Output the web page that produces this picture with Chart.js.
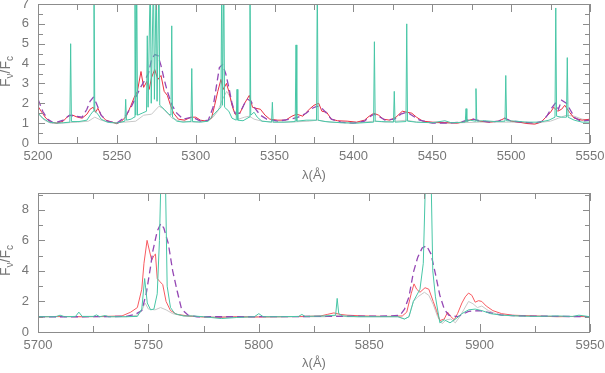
<!DOCTYPE html>
<html>
<head>
<meta charset="utf-8">
<script src="https://cdn.jsdelivr.net/npm/chart.js@4"></script>
<style>
body { margin: 0; background: #fff; }
canvas { position: absolute; left: 0; }
</style>
</head>
<body>
<canvas id="topChart" width="605" height="185" style="top:0px"></canvas>
<canvas id="bottomChart" width="605" height="188" style="top:185px"></canvas>
<script>
// ---- top panel: 5200-5550 A ----
const topXTicks = [5200, 5250, 5300, 5350, 5400, 5450, 5500, 5550];
const topYTicks = [0, 1, 2, 3, 4, 5, 6, 7];

const topTealWl = [5200,5203,5207,5212,5216,5220.2,5220.7,5221.2,5226,5231,5233.5,5235,5235.5,5236,5238,5240,5244,5250,
  5255.1,5255.6,5256.1,5259,5261,5261.5,5262,5262.6,5263.1,5266,5268.8,5269.3,5269.8,5271.2,5271.8,5273.2,5273.8,5275,5275.5,
  5276.7,5277.2,5280,5283,5284.3,5284.8,5285.3,5288,5292,5297,5297.5,5298,5303,5308,5311,5314,5316,5316.5,5317,5317.8,
  5318.3,5321,5323,5325.7,5326.2,5326.7,5330,5333.9,5334.4,5334.9,5337,5339,5342,5348.1,5348.6,5349.1,5356,5363.1,5363.6,5364.1,
  5370,5376.6,5377.1,5377.6,5382,5392,5402,5412.8,5413.3,5413.8,5418,5425.4,5425.9,5426.4,5433.3,5433.8,5434.3,5440,5450,5458,
  5462,5470.9,5471.4,5471.9,5474,5477.2,5477.7,5478.2,5483,5490,5496.1,5496.6,5497.1,5503,5510,5518,5524,5527.8,5528.3,5528.8,
  5532,5535.1,5535.6,5536.1,5540,5545,5550];
const topTealF = [1.5,1.25,1.05,1.0,1.02,1.05,5.0,1.08,1.08,1.15,1.45,1.6,8.5,1.6,1.45,1.2,1.05,1.0,
  1.1,2.2,1.15,1.2,1.3,8.5,1.4,8.5,1.4,1.5,1.6,5.4,1.8,8.5,2.0,8.5,2.2,8.5,2.1,
  8.5,1.9,1.7,1.45,1.4,5.9,1.3,1.1,1.05,1.08,3.75,1.08,1.05,1.1,1.4,1.65,1.8,8.5,1.9,8.5,
  1.8,1.6,1.25,1.15,2.7,1.15,1.12,1.3,8.5,1.4,1.55,1.3,1.1,1.05,2.05,1.05,1.05,1.08,4.94,1.1,
  1.15,1.15,8.5,1.15,1.08,1.02,1.0,1.05,5.1,1.1,1.08,1.05,2.6,1.05,1.08,6.0,1.1,1.05,1.02,1.12,
  1.02,1.05,1.73,1.08,1.15,1.1,2.74,1.1,1.12,1.08,1.1,3.4,1.12,1.1,1.05,1.05,1.15,1.3,6.8,1.35,
  1.3,1.3,4.3,1.3,1.15,1.05,1.05];

const topRedWl = [5200,5202,5205,5208,5212,5216,5219,5222,5225,5228,5231,5233,5235,5236.5,5238,5240,5243,5247,5250,5253,5256,
  5259,5261,5263,5265.3,5267,5269,5270.5,5272,5274,5276,5278,5280,5282,5284,5286,5289,5293,5297,5300,5303,5307,5310,5312,
  5314,5316,5317.5,5319.5,5321,5323,5325,5328,5331,5334,5336,5338,5341,5344,5347,5352,5357,5361,5364,5368,5372,5375,5378,
  5380,5383,5386,5390,5396,5402,5407,5410,5413,5416,5419,5423,5427,5431,5434,5437,5440,5444,5450,5460,5466,5471,5476,5480,
  5486,5492,5496,5500,5505,5510,5515,5519,5522,5525,5527,5529.5,5532,5534,5537,5540,5545,5550];
const topRedF = [1.85,1.6,1.25,1.05,1.0,1.1,1.35,1.4,1.3,1.25,1.45,1.7,1.8,1.55,1.75,1.4,1.15,1.05,0.97,1.1,1.35,
  1.9,2.3,2.6,3.6,2.8,3.1,2.7,3.3,3.7,3.2,3.4,2.6,2.4,1.9,1.5,1.2,1.15,1.3,1.3,1.15,1.1,1.25,1.9,
  2.6,3.2,2.7,3.0,2.6,1.9,1.45,1.5,2.0,2.4,1.8,1.75,1.7,1.4,1.2,1.15,1.15,1.35,1.45,1.35,1.7,1.9,2.0,
  1.6,1.55,1.2,1.12,1.1,1.05,1.15,1.35,1.5,1.4,1.2,1.15,1.3,1.6,1.55,1.5,1.3,1.1,1.05,1.02,1.0,1.1,1.2,1.1,
  1.05,1.1,1.25,1.1,1.05,0.98,0.95,1.05,1.3,1.55,1.8,1.6,1.7,1.9,1.55,1.25,1.15,1.2];

const topPurpleWl = [5200,5203,5206,5210,5216,5220,5224,5228,5231,5233,5235,5237,5240,5244,5250,5255,5259,5262,5265,5268,5270,
  5272,5274,5276,5278,5280,5282,5285,5288,5292,5298,5303,5308,5311,5313,5315,5317,5319,5321,5323,5325,5328,5331,5333,5335,
  5338,5341,5345,5352,5360,5365,5370,5374,5377,5380,5383,5386,5392,5400,5407,5410,5413,5416,5420,5426,5430,5434,5438,5442,
  5450,5460,5468,5472,5476,5480,5487,5492,5496,5500,5508,5515,5520,5523,5526,5528,5530,5532,5535,5538,5540,5544,5550];
const topPurpleF = [2.2,1.6,1.2,1.0,1.15,1.4,1.35,1.3,1.7,2.1,2.3,2.0,1.4,1.1,1.0,1.3,1.8,2.3,2.8,3.2,3.5,
  4.2,4.45,4.4,3.9,3.2,2.6,1.9,1.5,1.2,1.3,1.1,1.15,1.8,2.8,3.8,3.95,3.5,2.8,2.0,1.5,1.5,2.0,2.2,2.1,
  1.7,1.4,1.2,1.1,1.2,1.3,1.5,1.75,1.85,1.75,1.5,1.2,1.05,1.0,1.1,1.3,1.45,1.35,1.15,1.2,1.45,1.55,1.35,1.15,
  1.0,1.0,1.05,1.15,1.2,1.12,1.05,1.1,1.25,1.1,1.05,1.0,1.1,1.4,1.8,2.0,1.7,2.15,2.0,1.6,1.3,1.1,1.15];

const topGreyWl = [5200,5204,5208,5215,5225,5232,5236,5240,5246,5255,5262,5267,5272,5276.7,5279,5282,5285,5290,5300,5307,5311,
  5314,5317,5319.6,5322,5324,5327,5331,5334,5337,5342,5350,5360,5372,5377,5385,5400,5413,5420,5434,5440,5460,5480,5500,5515,
  5525,5530,5535,5540,5545,5550];
const topGreyF = [1.5,1.15,1.0,1.0,1.05,1.1,1.3,1.15,1.02,1.05,1.1,1.4,1.45,1.85,1.75,1.5,1.25,1.1,1.05,1.1,1.3,
  1.6,2.2,2.6,2.3,1.6,1.2,1.3,1.35,1.2,1.1,1.05,1.05,1.1,1.15,1.05,1.0,1.1,1.05,1.15,1.05,1.0,1.05,1.05,1.0,
  1.1,1.25,1.4,1.35,1.2,1.15];

// ---- bottom panel: 5700-5950 A ----
const botXTicks = [5700, 5750, 5800, 5850, 5900, 5950];
const botYTicks = [0, 2, 4, 6, 8];

const botTealWl = [5700,5708,5710,5712,5717,5718.5,5720,5725,5726.5,5728,5730.5,5732,5740,5745,5747,5748.3,5749.5,5751,5752.5,
  5754,5755,5756,5757.5,5758.5,5760,5762,5766,5770,5775,5783,5790,5798,5800,5802,5810,5818,5819.5,5821,5830,5834.8,5835.5,
  5836.2,5838,5845,5855,5863,5866,5868,5870,5873,5874.5,5875.5,5876.2,5877.8,5878.8,5880,5882,5884,5886.6,5889.6,5892,5895,
  5898,5901,5905,5910,5918,5925,5935,5942,5945,5950];
const botTealF = [1.0,1.0,1.1,1.0,1.02,1.3,1.02,1.02,1.12,1.0,1.08,1.0,1.0,1.02,1.5,3.5,1.9,1.45,1.5,
  2.5,6.0,12,12,3.0,1.6,1.2,1.05,1.05,1.0,0.88,0.95,1.0,1.2,1.0,1.0,1.02,1.15,1.02,1.05,1.1,2.2,
  1.2,1.05,1.0,1.0,1.0,0.85,1.0,2.0,2.8,4.5,10,12,12,4.0,2.3,0.6,0.8,0.6,0.9,1.2,1.45,
  1.5,1.4,1.2,1.1,1.05,1.02,1.05,1.02,1.1,1.0];

const botRedWl = [5700,5710,5720,5730,5738,5742,5745,5747,5748,5749.4,5750.5,5751.5,5752.5,5753.2,5754,5755.2,5756.5,5758,5760,
  5763,5768,5775,5780,5790,5800,5810,5820,5828,5831,5834,5837,5840,5848,5858,5865,5867,5869,5870.3,5871.5,5873,5875.3,
  5877,5879,5880.5,5882,5884,5885.5,5887,5888.5,5890,5892,5893.5,5895,5896.5,5898,5899.5,5901,5903,5906,5910,5915,5925,
  5935,5945,5950];
const botRedF = [1.0,1.02,1.0,1.02,1.05,1.3,1.6,2.8,4.5,6.0,5.3,4.7,5.0,5.1,3.5,3.3,3.1,2.0,1.4,
  1.15,1.05,0.98,0.95,1.0,0.98,1.0,1.02,1.05,1.15,1.25,1.15,1.1,1.05,1.02,1.05,1.3,2.5,3.15,2.8,2.6,2.9,
  2.8,2.0,1.4,0.75,0.85,1.3,1.0,0.8,1.2,1.9,2.3,2.55,2.4,1.95,2.05,2.0,1.7,1.4,1.2,1.1,1.05,
  1.0,1.02,1.0];

const botGreyWl = [5700,5740,5745,5747,5748.5,5750,5753,5755.5,5758,5761,5766,5775,5800,5830,5836,5840,5863,5866,5868,5870,
  5872,5875,5877,5879,5881,5883,5885,5887,5889,5891,5893,5895,5897,5899,5901,5904,5908,5915,5950];
const botGreyF = [1.0,1.0,1.1,1.4,1.9,1.5,1.45,1.6,1.45,1.2,1.05,1.0,1.0,1.0,1.1,1.0,1.0,0.85,1.0,2.0,
  2.3,2.6,2.4,1.8,1.0,0.55,0.8,0.85,0.6,1.0,1.5,2.0,1.85,1.6,1.7,1.4,1.15,1.05,1.0];

const botPurpleWl = [5700,5720,5740,5744,5747,5749,5751,5752,5754,5755.6,5757,5759,5761,5763,5765,5768,5772,5800,5830,5860,
  5864,5866,5868,5870,5872,5874,5876,5878,5880,5882,5884,5886,5890,5895,5900,5905,5910,5920,5950];
const botPurpleF = [1.0,1.0,1.02,1.15,1.4,2.5,4.3,5.3,6.6,7.1,6.8,5.8,4.0,2.7,1.5,1.1,1.0,1.0,1.02,1.05,
  1.1,1.5,2.3,3.9,4.9,5.5,5.65,5.1,3.8,2.4,1.5,1.1,1.0,1.35,1.4,1.25,1.1,1.05,1.0];

const TEAL = '#48c6a6', PURPLE = '#9447b4', GREY = '#c8c8c8';
const TXT = '#777777';

function pts(wl, f) { return wl.map((w, i) => ({ x: w, y: f[i] })); }

// frame with inward ticks on all four sides, plus the F_nu/F_c label
const framePlugin = {
  id: 'frame',
  afterDraw(chart, args, o) {
    const { ctx, chartArea: a, scales: { x, y } } = chart;
    ctx.save();
    ctx.strokeStyle = '#8c8c8c';
    ctx.lineWidth = 1;
    ctx.strokeRect(a.left + 0.5, a.top + 0.5, a.right - a.left - 1, a.bottom - a.top);
    ctx.beginPath();
    for (let v = x.min; v <= x.max + 0.01; v += o.xMinor) {
      const px = Math.round(x.getPixelForValue(v)) + 0.5;
      const len = (v - x.min) % o.xMajor === 0 ? 8 : 6;
      ctx.moveTo(px, a.bottom); ctx.lineTo(px, a.bottom - len);
      ctx.moveTo(px, a.top); ctx.lineTo(px, a.top + len);
    }
    for (let v = 0; v <= y.max + 0.01; v += o.yMinor) {
      const py = Math.round(y.getPixelForValue(v)) + 0.5;
      const len = Math.abs(v % o.yMajor) < 1e-6 ? 7 : 5;
      ctx.moveTo(a.left, py); ctx.lineTo(a.left + len, py);
      ctx.moveTo(a.right, py); ctx.lineTo(a.right - len, py);
    }
    ctx.stroke();

    // y axis title with subscripts
    const cy = (a.top + a.bottom) / 2 + o.titleShift;
    const parts = [['F', 14, 0], ['\u03bd', 10, 3], ['/F', 14, 0], ['c', 10, 3]];
    let w = 0;
    parts.forEach(p => { ctx.font = p[1] + 'px "Liberation Sans"'; w += ctx.measureText(p[0]).width; });
    ctx.translate(10, cy);
    ctx.rotate(-Math.PI / 2);
    ctx.fillStyle = TXT;
    ctx.textBaseline = 'alphabetic';
    let cx = -w / 2;
    parts.forEach(p => {
      ctx.font = p[1] + 'px "Liberation Sans"';
      ctx.fillText(p[0], cx, p[2]);
      cx += ctx.measureText(p[0]).width;
    });
    ctx.restore();
  }
};

function makeChart(id, cfg) {
  const font = { family: 'Liberation Sans', size: 13 };
  return new Chart(document.getElementById(id), {
    type: 'line',
    data: {
      datasets: [
        { data: pts(cfg.tealWl, cfg.tealF), borderColor: TEAL, borderWidth: 1, order: 1 },
        { data: pts(cfg.purpleWl, cfg.purpleF), borderColor: PURPLE, borderWidth: 1.3, borderDash: [7, 4], order: 2 },
        { data: pts(cfg.redWl, cfg.redF), borderColor: cfg.red, borderWidth: 1, order: 3 },
        { data: pts(cfg.greyWl, cfg.greyF), borderColor: GREY, borderWidth: 1, order: 4 }
      ]
    },
    options: {
      responsive: false,
      animation: false,
      devicePixelRatio: 1,
      layout: { padding: { top: cfg.padTop, right: 15, bottom: 0, left: 0 } },
      elements: { point: { radius: 0 }, line: { tension: 0 } },
      plugins: {
        legend: { display: false },
        tooltip: { enabled: false },
        frame: { xMinor: 25, xMajor: 50, yMinor: cfg.yMinor, yMajor: cfg.yMajor, titleShift: cfg.titleShift }
      },
      scales: {
        x: {
          type: 'linear', min: cfg.xTicks[0], max: cfg.xTicks[cfg.xTicks.length - 1],
          afterFit(s) { s.height = cfg.xHeight; s.paddingLeft = 0; s.paddingRight = 0; },
          afterBuildTicks(s) { s.ticks = cfg.xTicks.map(v => ({ value: v })); },
          grid: { display: false, drawTicks: false },
          border: { display: false },
          ticks: { color: TXT, font, padding: 6, maxRotation: 0, autoSkip: false, callback: v => String(v) },
          title: { display: true, text: '\u03bb(\u00c5)', color: TXT, font, padding: { top: 0, bottom: 2 } }
        },
        y: {
          type: 'linear', min: 0, max: cfg.yMax,
          afterFit(s) { s.width = 38; s.paddingTop = 0; s.paddingBottom = 0; },
          afterBuildTicks(s) { s.ticks = cfg.yTicks.map(v => ({ value: v })); },
          grid: { display: false, drawTicks: false },
          border: { display: false },
          ticks: { color: TXT, font, padding: 9, autoSkip: false, callback: v => String(v) }
        }
      }
    },
    plugins: [framePlugin]
  });
}

makeChart('topChart', {
  tealWl: topTealWl, tealF: topTealF, redWl: topRedWl, redF: topRedF,
  purpleWl: topPurpleWl, purpleF: topPurpleF, greyWl: topGreyWl, greyF: topGreyF,
  xTicks: topXTicks, yTicks: topYTicks, yMax: 7, yMinor: 0.5, yMajor: 1,
  padTop: 4, xHeight: 42, titleShift: -2, red: '#ea2f42'
});

makeChart('bottomChart', {
  tealWl: botTealWl, tealF: botTealF, redWl: botRedWl, redF: botRedF,
  purpleWl: botPurpleWl, purpleF: botPurpleF, greyWl: botGreyWl, greyF: botGreyF,
  xTicks: botXTicks, yTicks: botYTicks, yMax: 9.1, yMinor: 1, yMajor: 2,
  padTop: 8, xHeight: 41, titleShift: -2, red: '#f85a60'
});
</script>
</body>
</html>
